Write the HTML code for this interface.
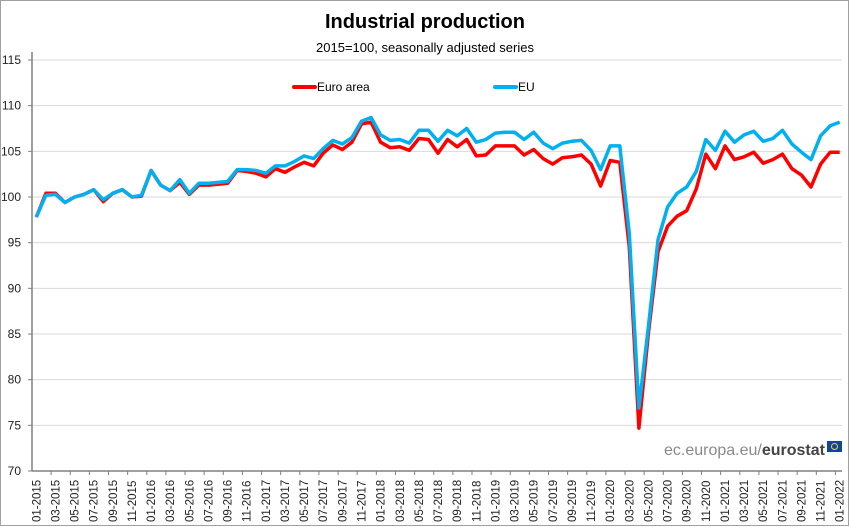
<!DOCTYPE html>
<html><head><meta charset="utf-8"><style>
body{margin:0;background:#fff;}
svg{display:block;font-family:"Liberation Sans",Arial,sans-serif;}
</style></head><body>
<svg id="chart" width="850" height="527" viewBox="0 0 850 527">
<rect x="0.5" y="0.5" width="848" height="525" fill="#fff" stroke="#a0a0a0"/>
<text x="425" y="28" text-anchor="middle" font-size="20" font-weight="bold" fill="#000">Industrial production</text>
<text x="425" y="52" text-anchor="middle" font-size="13" fill="#000">2015=100, seasonally adjusted series</text>
<g id="grid"></g>
<g id="yaxis"></g>
<g id="xaxis"></g>
<g id="series"></g>
<g>
<g>
<line x1="294" y1="87" x2="315" y2="87" stroke="#ff0000" stroke-width="4" stroke-linecap="round"/>
<text x="317" y="91" font-size="12" fill="#000">Euro area</text></g>
<g>
<line x1="495" y1="87" x2="516" y2="87" stroke="#00b0f0" stroke-width="4" stroke-linecap="round"/>
<text x="518" y="91" font-size="12" fill="#000">EU</text></g>
</g>
<g>
<text x="664" y="455" font-size="16" fill="#8a8a8a">ec.europa.eu/<tspan font-weight="bold" fill="#444">eurostat</tspan></text>
<rect x="827" y="441" width="15" height="11" fill="#0e47a1"/>
<circle cx="834.5" cy="446.5" r="3" fill="none" stroke="#ffd700" stroke-width="1"/>
</g>
</svg>
<script>
const categories = [];
for (let y = 2015; y <= 2022; y++) for (let m = 1; m <= 12; m++) { if (y === 2022 && m > 1) break; categories.push(String(m).padStart(2,'0') + '-' + y); }
const euroArea = [97.8,100.4,100.4,99.4,100.0,100.3,100.8,99.5,100.4,100.8,100.0,100.1,
102.9,101.3,100.7,101.6,100.3,101.3,101.3,101.4,101.5,102.9,102.8,102.6,
102.2,103.1,102.7,103.3,103.8,103.4,104.8,105.7,105.2,106.0,108.0,108.2,
106.0,105.4,105.5,105.1,106.4,106.3,104.8,106.3,105.5,106.3,104.5,104.6,
105.6,105.6,105.6,104.6,105.2,104.2,103.6,104.3,104.4,104.6,103.6,101.2,
104.0,103.8,94.5,74.7,85.1,94.0,96.8,97.9,98.5,100.9,104.7,103.1,
105.6,104.1,104.4,104.9,103.7,104.1,104.7,103.1,102.4,101.1,103.6,104.9,104.9];
const eu = [97.8,100.2,100.3,99.4,100.0,100.3,100.8,99.7,100.4,100.8,100.0,100.2,
102.9,101.3,100.7,101.9,100.4,101.5,101.5,101.6,101.7,103.0,103.0,102.9,
102.6,103.4,103.4,103.9,104.5,104.2,105.3,106.2,105.8,106.5,108.3,108.7,
106.8,106.2,106.3,105.9,107.3,107.3,106.1,107.3,106.7,107.5,106.0,106.3,
107.0,107.1,107.1,106.3,107.1,105.9,105.3,105.9,106.1,106.2,105.1,103.0,
105.6,105.6,96.0,76.9,85.8,95.3,98.9,100.4,101.1,102.8,106.3,105.1,
107.2,106.0,106.8,107.2,106.1,106.4,107.3,105.8,104.9,104.1,106.7,107.8,108.2];
const yTicks = [70,75,80,85,90,95,100,105,110,115];

const NS = 'http://www.w3.org/2000/svg';
const X0 = 32, X1 = 845, Y0 = 471, Y1 = 60, YMIN = 70, YMAX = 115;
const band = (X1 - X0) / categories.length;
const xScale = i => X0 + band * (i + 0.45);
const yScale = v => Y0 - (v - YMIN) / (YMAX - YMIN) * (Y0 - Y1);
function mk(tag, attrs, parent){ const e = document.createElementNS(NS, tag); for (const k in attrs) e.setAttribute(k, attrs[k]); parent.appendChild(e); return e; }

const grid = document.getElementById('grid');
const yaxis = document.getElementById('yaxis');
yTicks.forEach(t => {
  const y = yScale(t);
  if (t !== YMIN) {
    const g = mk('line', {x1: X0, x2: 842, y1: y, y2: y, stroke: '#d9d9d9', 'stroke-width': 1}, grid);
    
    
  }
  mk('line', {x1: X0 - 4, x2: X0, y1: y, y2: y, stroke: '#808080'}, yaxis);
  const tx = mk('text', {x: X0 - 11, y: y + 4, 'text-anchor': 'end', 'font-size': 12, fill: '#222'}, yaxis);
  tx.textContent = t;
  
  
});
const ya = mk('line', {x1: X0, x2: X0, y1: 52, y2: Y0, stroke: '#808080', 'stroke-width': 1.5}, yaxis);



const xaxis = document.getElementById('xaxis');
const xa = mk('line', {x1: X0, x2: 842, y1: Y0, y2: Y0, stroke: '#808080', 'stroke-width': 1.5}, xaxis);


categories.forEach((c, i) => {
  if (i % 2 === 0) {
    const tx0 = X0 + band * (i + 2);
    if (tx0 < 843) mk('line', {x1: tx0, x2: tx0, y1: Y0, y2: Y0 + 4, stroke: '#808080'}, xaxis);
    const x = xScale(i) + 4;
    const t = mk('text', {x: 0, y: 0, transform: `translate(${x},522) rotate(-90)`, 'font-size': 11.5, fill: '#222'}, xaxis);
    t.textContent = c;
    
    
  }
});

const series = document.getElementById('series');
function drawLine(vals, color, name){
  const d = vals.map((v, i) => (i ? 'L' : 'M') + xScale(i).toFixed(1) + ',' + yScale(v).toFixed(1)).join(' ');
  const p = mk('path', {d: d, fill: 'none', stroke: color, 'stroke-width': 3.5, 'stroke-linejoin': 'round'}, series);
  
  
}
drawLine(euroArea, '#ff0000', 'euro-area-line');
drawLine(eu, '#00b0f0', 'eu-line');
</script>
</body></html>
